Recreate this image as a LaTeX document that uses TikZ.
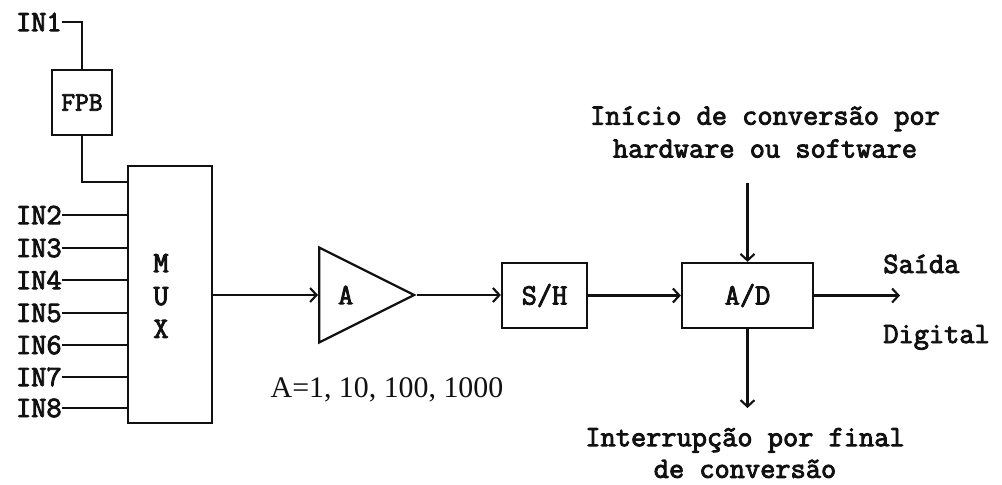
\documentclass[tikz,border=0pt]{standalone}
\usepackage{fontspec}
\setmainfont{Liberation Serif}
\setmonofont{Latin Modern Mono}[AutoFakeBold=3]
\usetikzlibrary{arrows.meta,calc,positioning,shapes.geometric}
\definecolor{ink}{HTML}{111111}
\newcommand{\lblsize}{\fontsize{16.8}{18.7}\selectfont}
\newcommand{\fpbsize}{\fontsize{15.2}{16}\selectfont}
\tikzset{
 every node/.append style={font=\lblsize\ttfamily\bfseries,text=ink,align=center},
 blk/.style={draw=ink,line width=1.3pt,inner sep=0pt},
 amp/.style={blk,isosceles triangle,isosceles triangle stretches,minimum width=1.9cm,minimum height=1.9cm},
 wire/.style={draw=ink,line width=1.2pt},
 flow/.style={wire,-{Straight Barb[length=1.3mm,width=2.8mm]}},
 inp/.style={inner sep=0pt},
 gain/.style={inner sep=0pt,font=\fontsize{17}{20}\selectfont\rmfamily},
}

\begin{document}
\begin{tikzpicture}[x=0.2mm,y=-0.2mm]
\useasboundingbox (0,0) rectangle (1002,484);

% multiplexer and its inputs
\node[blk,minimum width=1.68cm,minimum height=5.14cm] (mux) at (170,294.5) {};
\node[inp] (muxlbl) at (161,296) {M\\U\\X};

\node[inp,anchor=east] (in1) at (62,22) {IN1};
\node[blk,minimum width=1.2cm,minimum height=1.3cm,font=\fpbsize\ttfamily\bfseries] (fpb) at (82,102.5) {FPB};
\draw[wire] (in1.east) -| (fpb.north);
\draw[wire] (fpb.south) |- ([yshift=-0.34cm]mux.north west);

\foreach \i/\y in {2/215,3/248,4/280,5/313,6/345,7/377,8/408}{
  \node[inp,anchor=east] (in\i) at (62,\y) {IN\i};
  \draw[wire] (in\i.east) -- (in\i.east -| mux.west);
}

% gain, sample/hold, converter
\node[amp,anchor=west] (amp) at (318,295) {A};
\node[gain] (ampgain) at (387,390) {A=1, 10, 100, 1000};
\node[blk,minimum width=1.7cm,minimum height=1.3cm] (sh) at (544.5,295.5) {S/H};
\node[blk,minimum width=2.62cm,minimum height=1.3cm] (ad) at (747.5,295.5) {A/D};

\draw[flow] (mux.east |- amp.west) -- (amp.west);
\draw[flow] (amp.apex) -- (amp.apex -| sh.west);
\draw[flow] (sh.east) -- (ad.west);

% control and output
\node[inp] (start) at (765,132) {Início de conversão por\\hardware ou software};
\coordinate (adin) at (747.5,183);
\draw[flow] (adin) -- (ad.north);

\coordinate (adout) at (900,295.5);
\draw[flow] (ad.east) -- (adout);
\node[inp,anchor=base west] (saida) at (883,273) {Saída};
\node[inp,anchor=base west] (digital) at (883,343) {Digital};

\coordinate (adirq) at (747.5,408);
\draw[flow] (ad.south) -- (adirq);
\node[inp,font=\fontsize{16.8}{18}\selectfont\ttfamily\bfseries] (irq) at (745,453) {Interrupção por final\\de conversão};
\end{tikzpicture}
\end{document}
